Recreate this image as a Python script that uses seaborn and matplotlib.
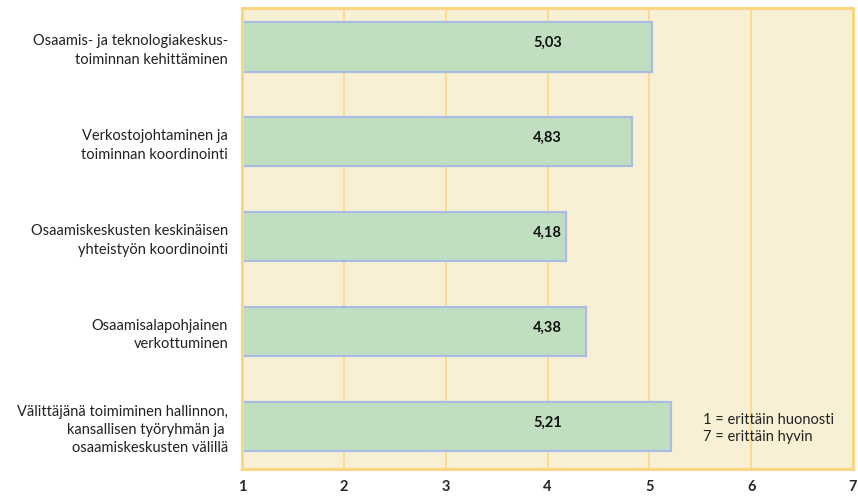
import pandas as pd
import matplotlib.pyplot as plt
import seaborn as sns

# Chart data
categories = [
    "Osaamis- ja teknologiakeskus-\ntoiminnan kehittäminen",
    "Verkostojohtaminen ja\ntoiminnan koordinointi",
    "Osaamiskeskusten keskinäisen\nyhteistyön koordinointi",
    "Osaamisalapohjainen\nverkottuminen",
    "Välittäjänä toimiminen hallinnon,\nkansallisen työryhmän ja \nosaamiskeskusten välillä",
]
values = [5.03, 4.83, 4.18, 4.38, 5.21]
value_labels = ["5,03", "4,83", "4,18", "4,38", "5,21"]
x_ticks = [1, 2, 3, 4, 5, 6, 7]

df = pd.DataFrame({"Kategoria": categories, "Arvo": values})

sns.set_style("white")
plt.rcParams["font.family"] = ["Lato", "DejaVu Sans"]

fig = plt.figure(figsize=(8.58, 4.97), dpi=100)
ax = fig.add_axes([242 / 858, 28 / 497, 611 / 858, 461 / 497])
ax.set_facecolor("#F7F0D4")

sns.barplot(data=df, x="Arvo", y="Kategoria", orient="h", width=0.52,
            color="#C2DEC0", edgecolor="#A9BDE2", linewidth=1.6,
            saturation=1, ax=ax, zorder=3)

ax.set_xlim(1, 7)
ax.set_ylim(4.45, -0.41)
ax.set_xticks(x_ticks)
ax.set_xticklabels([str(t) for t in x_ticks], fontweight="bold", fontsize=10.5)
ax.tick_params(axis="x", length=0, pad=8)
ax.tick_params(axis="y", length=0, pad=10)
for lab in ax.get_yticklabels():
    lab.set_fontsize(10.5)
    lab.set_linespacing(1.4)
    lab.set_color("#222222")
ax.set_xlabel("")
ax.set_ylabel("")

# vertical grid lines
for t in x_ticks[1:-1]:
    ax.axvline(t, color="#FCD98B", linewidth=1.3, zorder=1)

for side in ["left", "right", "top", "bottom"]:
    ax.spines[side].set_visible(True)
    ax.spines[side].set_color("#FCD580")
    ax.spines[side].set_linewidth(2.2)
    ax.spines[side].set_zorder(5)

# value labels
for i, lab in enumerate(value_labels):
    ax.text(4.0, i - 0.04, lab, ha="center", va="center",
            fontsize=10.5, fontweight="bold", color="#111111", zorder=4)

# scale explanation
ax.text(5.53, 4.02, "1 = erittäin huonosti\n7 = erittäin hyvin", ha="left", va="center",
        fontsize=10.5, linespacing=1.3, color="#222222", zorder=4)

plt.savefig("out.png", dpi=100)
